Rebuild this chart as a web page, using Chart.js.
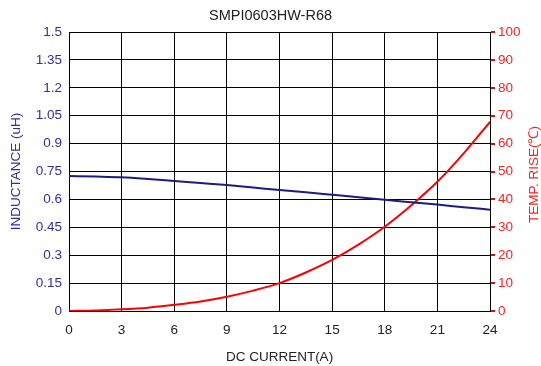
<!DOCTYPE html>
<html><head><meta charset="utf-8">
<script src="https://cdn.jsdelivr.net/npm/chart.js@4"></script>
<style>html,body{margin:0;padding:0;background:#fff}</style>
</head><body>
<canvas id="c" width="541" height="366"></canvas>
<script>
const current = [0, 1.5, 3, 4.5, 6, 7.5, 9, 10.5, 12, 13.5, 15, 16.5, 18, 19.5, 21, 22.5, 24];
const inductance = [0.726, 0.723, 0.719, 0.710, 0.699, 0.688, 0.677, 0.664, 0.650, 0.638, 0.625, 0.612, 0.598, 0.585, 0.572, 0.558, 0.545];
const tempRise = [0, 0.2, 0.6, 1.2, 2.2, 3.4, 5.1, 7.3, 10.0, 13.8, 18.3, 23.8, 30.2, 37.8, 46.3, 56.5, 67.8];
const leftTicks = [0, 0.15, 0.3, 0.45, 0.6, 0.75, 0.9, 1.05, 1.2, 1.35, 1.5];
const xTicks = [0, 3, 6, 9, 12, 15, 18, 21, 24];
const rightTitle = 'TEMP. RISE(℃)';

const font = 'Liberation Sans, Arial, sans-serif';
const blue = '#30309a';
const red = '#ff2020';

const rightTitlePlugin = {
  id: 'rightTitle',
  afterDraw(chart) {
    const ctx = chart.ctx;
    ctx.save();
    ctx.translate(534, (chart.chartArea.top + chart.chartArea.bottom) / 2 + 3);
    ctx.rotate(-Math.PI / 2);
    ctx.fillStyle = red;
    ctx.font = '13.5px ' + font;
    ctx.textAlign = 'center';
    ctx.textBaseline = 'middle';
    ctx.fillText(rightTitle, 0, 0);
    ctx.restore();
  }
};

new Chart(document.getElementById('c'), {
  type: 'line',
  data: {
    datasets: [
      { label: 'Inductance', data: current.map((x,i)=>({x, y: inductance[i]})), yAxisID: 'yL',
        borderColor: '#1c1c84', borderWidth: 2, pointRadius: 0, cubicInterpolationMode: 'monotone' },
      { label: 'Temp', data: current.map((x,i)=>({x, y: tempRise[i]})), yAxisID: 'yR',
        borderColor: '#ff0000', borderWidth: 2, pointRadius: 0, cubicInterpolationMode: 'monotone' }
    ]
  },
  plugins: [rightTitlePlugin],
  options: {
    responsive: false, animation: false,
    layout: { padding: 0 },
    plugins: {
      legend: { display: false },
      tooltip: { enabled: false },
      title: { display: true, text: 'SMPI0603HW-R68', color: '#222', font: { family: font, size: 14.5, weight: 'normal' }, padding: { top: 7.5, bottom: 7.1 } }
    },
    scales: {
      x: {
        type: 'linear', min: 0, max: 24,
        afterBuildTicks: s => { s.ticks = xTicks.map(v => ({ value: v })); },
        ticks: { color: '#222', font: { family: font, size: 13.5 }, padding: 11, maxRotation: 0 },
        grid: { color: '#000', lineWidth: 1, drawTicks: false },
        border: { color: '#000' },
        title: { display: true, text: 'DC CURRENT(A)', color: '#222', font: { family: font, size: 13.5 }, padding: { top: 0, bottom: 1 } },
        afterFit: s => { s.height = 55; }
      },
      yL: {
        type: 'linear', position: 'left', min: 0, max: 1.5,
        afterBuildTicks: s => { s.ticks = leftTicks.map(v => ({ value: v })); },
        ticks: { color: blue, font: { family: font, size: 13.5 }, padding: 7, callback: v => String(v) },
        grid: { color: '#000', lineWidth: 1, drawTicks: false },
        border: { color: '#000' },
        title: { display: true, text: 'INDUCTANCE (uH)', color: blue, font: { family: font, size: 13.5 }, padding: { top: 8, bottom: 0 } },
        afterFit: s => { s.width = 69; }
      },
      yR: {
        type: 'linear', position: 'right', min: 0, max: 100,
        ticks: { stepSize: 10, color: red, font: { family: font, size: 13.5 }, padding: 3 },
        grid: { drawOnChartArea: false, color: '#ff0000', tickLength: 5, lineWidth: 2 },
        border: { color: '#000' },
        afterFit: s => { s.width = 51; }
      }
    }
  }
});
</script>
</body></html>
